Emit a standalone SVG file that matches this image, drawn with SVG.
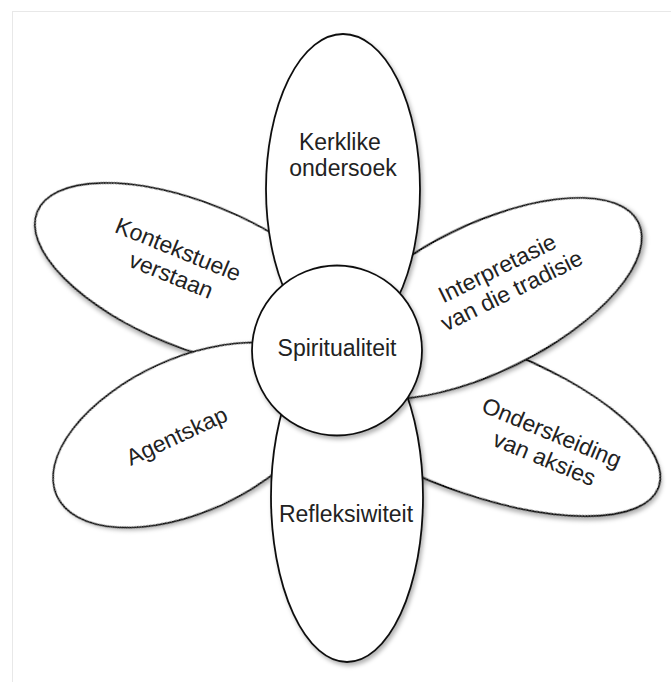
<svg xmlns="http://www.w3.org/2000/svg" width="671" height="682" viewBox="0 0 671 682">
  <defs>
    <filter id="soft-shadow" x="-20%" y="-20%" width="140%" height="140%">
      <feDropShadow dx="2" dy="3" stdDeviation="2" flood-color="#000" flood-opacity="0.3"/>
    </filter>
  </defs>
  <style>
    .petal { fill: #ffffff; stroke: #111111; stroke-width: 1.8; filter: url(#soft-shadow); }
    .label { font-family: "Liberation Sans", Arial, sans-serif; font-size: 23px; fill: #222222; text-anchor: middle; }
  </style>

  <rect width="671" height="682" fill="#ffffff"/>
  <rect x="12.5" y="11.5" width="670" height="680" fill="none" stroke="#e8e8e8" stroke-width="1"/>

  <!-- petals, back to front -->
  <g id="petal-kontekstuele">
    <ellipse class="petal" cx="0" cy="0" rx="168.7" ry="72.4" transform="translate(193.6,275.3) rotate(22.1)"/>
    <text class="label" transform="translate(173.3,270) rotate(22.1)">
      <tspan x="0" y="-13">Kontekstuele</tspan>
      <tspan x="0" y="13.5">verstaan</tspan>
    </text>
  </g>

  <g id="petal-onderskeiding">
    <ellipse class="petal" cx="0" cy="0" rx="198" ry="74" transform="translate(473,418) rotate(20.5)"/>
    <text class="label" transform="translate(546.7,453.2) rotate(22.5)">
      <tspan x="0" y="-13">Onderskeiding</tspan>
      <tspan x="0" y="13.5">van aksies</tspan>
    </text>
  </g>

  <g id="petal-agentskap">
    <ellipse class="petal" cx="0" cy="0" rx="146" ry="76.8" transform="translate(189.7,435.1) rotate(-24.5)"/>
    <text class="label" transform="translate(180,443) rotate(-25)" x="0" y="0">Agentskap</text>
  </g>

  <g id="petal-interpretasie">
    <ellipse class="petal" cx="0" cy="0" rx="172" ry="73.5" transform="translate(484,298.5) rotate(-26.2)"/>
    <text class="label" transform="translate(509.2,285.5) rotate(-26.2)">
      <tspan x="0" y="-13">Interpretasie</tspan>
      <tspan x="0" y="13.5">van die tradisie</tspan>
    </text>
  </g>

  <g id="petal-kerklike">
    <ellipse class="petal" cx="343" cy="189" rx="77" ry="155"/>
    <text class="label">
      <tspan x="343" y="149.5">Kerklike</tspan>
      <tspan x="343" y="175.5">ondersoek</tspan>
    </text>
  </g>

  <g id="petal-refleksiwiteit">
    <ellipse class="petal" cx="347" cy="497" rx="76" ry="165"/>
    <text class="label" x="346" y="522">Refleksiwiteit</text>
  </g>

  <!-- centre -->
  <g id="centre-spiritualiteit">
    <circle class="petal" cx="337" cy="350.5" r="85"/>
    <text class="label" x="337" y="356">Spiritualiteit</text>
  </g>

  <g id="connectors"/>
</svg>
